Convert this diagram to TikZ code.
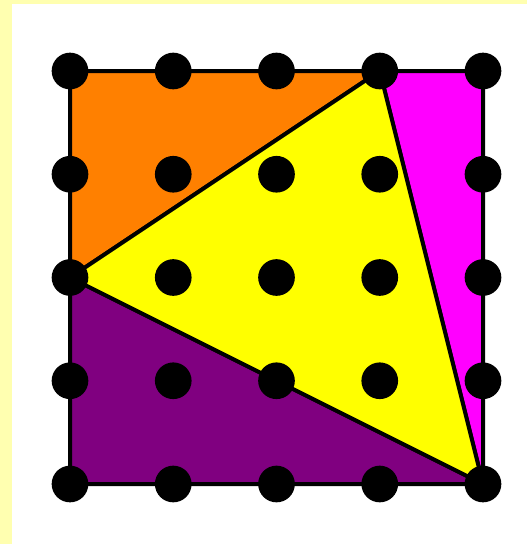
\documentclass[tikz,border=0pt]{standalone}
\definecolor{paleyellow}{RGB}{255,255,176}
\definecolor{orangec}{RGB}{255,128,0}
\definecolor{magentac}{RGB}{255,0,255}
\definecolor{purplec}{RGB}{128,0,128}
\definecolor{yellowc}{RGB}{255,255,0}
\tikzset{
  dot/.style={circle,fill=black,inner sep=0pt,minimum size=27.5pt},
  piece/.style={draw=black,line width=3pt,line join=round},
}
\begin{document}
\begin{tikzpicture}[x=0.75pt,y=-0.75pt]
\useasboundingbox (0,0) rectangle (527,544);
\fill[paleyellow] (0,0) rectangle (527,544);
\fill[white] (12,4) rectangle (527,544);
% grid coordinates
\foreach \i in {0,...,4}{
  \foreach \j in {0,...,4}{
    \coordinate (p\i\j) at ({70+103.25*\i},{71+103.25*\j});
  }
}
\filldraw[piece,fill=orangec] (p00) -- (p30) -- (p02) -- cycle;
\filldraw[piece,fill=magentac] (p30) -- (p40) -- (p44) -- cycle;
\filldraw[piece,fill=purplec] (p02) -- (p44) -- (p04) -- cycle;
\filldraw[piece,fill=yellowc] (p30) -- (p02) -- (p44) -- cycle;
\foreach \i in {0,...,4}{
  \foreach \j in {0,...,4}{
    \node[dot] (d\i\j) at (p\i\j) {};
  }
}
\end{tikzpicture}
\end{document}
